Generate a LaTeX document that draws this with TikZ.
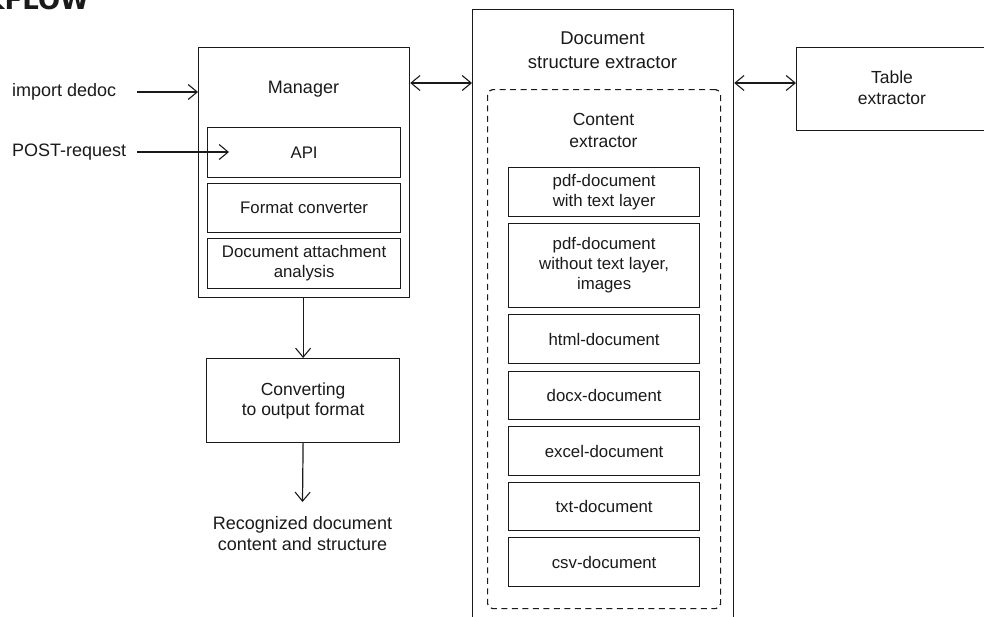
\documentclass[tikz,border=0pt]{standalone}
\usepackage{fontspec}
\setmainfont{Liberation Sans}
\newfontfamily\titlefont{DejaVu Sans}
\usetikzlibrary{arrows.meta}
\definecolor{ink}{HTML}{1A1A1A}
\tikzset{
  x=1pt, y=-1pt,
  box/.style={draw=ink, line width=1.2pt, rectangle, anchor=north west, inner sep=0pt},
  item/.style={box, minimum width=191pt, font=\fontsize{16.8}{20}\selectfont, align=center, text=ink},
  lbl/.style={font=\fontsize{18}{21}\selectfont, align=center, text=ink, inner sep=0pt},
  arr/.style={draw=ink, line width=1.2pt, -{Straight Barb[length=9pt,width=15pt,line width=1.1pt]}},
  dbl/.style={draw=ink, line width=1.2pt, {Straight Barb[length=9pt,width=15pt,line width=1.1pt]}-{Straight Barb[length=9pt,width=15pt,line width=1.1pt]}},
}
\begin{document}
\begin{tikzpicture}
\useasboundingbox (0,0) rectangle (984,616);

% heading, partly outside the page
\node[anchor=base east, inner sep=0pt, font=\titlefont\bfseries\fontsize{26}{26}\selectfont, text=ink] (ttl) at (89,9) {WORKFLOW};

% Manager block
\node[box, minimum width=211pt, minimum height=250pt] (mgr) at (198,47) {};
\node[lbl] (mgrl) at (303.5,89) {Manager};
\node[item, minimum width=193pt, minimum height=50pt] (api) at (207,127) {API};
\node[item, minimum width=193pt, minimum height=49pt] (fmt) at (207,183) {Format converter};
\node[item, minimum width=193pt, minimum height=50pt] (att) at (207,238) {Document attachment\\analysis};

% inputs
\node[lbl, anchor=west] (imp) at (12,92) {import dedoc};
\node[lbl, anchor=west] (post) at (12,152) {POST-request};
\coordinate (impS) at (137,92);
\coordinate (postS) at (137,152);
\coordinate (postE) at (229,152);
\draw[arr] (impS) -- (impS -| mgr.west);
\draw[arr] (postS) -- (postE);

% output chain
\node[box, minimum width=193pt, minimum height=84pt, font=\fontsize{17.5}{20}\selectfont, align=center, text=ink] (conv) at (206,358) {Converting\\to output format};
\node[lbl, anchor=north] (res) at (302.5,516) {Recognized document\\content and structure};
\coordinate (resA) at (302.5,502);
\draw[arr] (conv.north |- mgr.south) -- (conv.north);
\draw[arr] (conv.south) -- (resA);

% Document structure extractor
\node[box, minimum width=261pt, minimum height=625pt] (dse) at (472,9) {};
\node[lbl, font=\fontsize{18.5}{24}\selectfont] (dsel) at (602.5,50) {Document\\structure extractor};
\node[draw=ink, line width=1.2pt, dash pattern=on 6pt off 4.5pt, rounded corners=5pt, anchor=north west, minimum width=233pt, minimum height=519pt, inner sep=0pt] (ce) at (487,89) {};
\node[lbl, font=\fontsize{17.5}{22}\selectfont] (cel) at (603.5,130) {Content\\extractor};
\node[item, minimum height=49pt] (pdfa) at (508,167) {pdf-document\\with text layer};
\node[item, minimum height=84pt] (pdfb) at (508,223) {pdf-document\\without text layer,\\images};
\node[item, minimum height=49pt] (html) at (508,314) {html-document};
\node[item, minimum height=48pt] (docx) at (508,371) {docx-document};
\node[item, minimum height=49pt] (xls) at (508,426) {excel-document};
\node[item, minimum height=48pt] (txt) at (508,482) {txt-document};
\node[item, minimum height=49pt] (csv) at (508,537) {csv-document};

% Table extractor, running past the right edge
\node[box, minimum width=194pt, minimum height=83pt] (tab) at (796,47) {};
\node[lbl, font=\fontsize{17.5}{21}\selectfont] (tabl) at (892,88) {Table\\extractor};

% links between the blocks
\coordinate (lnk) at (0,83);
\draw[dbl] (mgr.east |- lnk) -- (dse.west |- lnk);
\draw[dbl] (dse.east |- lnk) -- (tab.west |- lnk);
\end{tikzpicture}
\end{document}
